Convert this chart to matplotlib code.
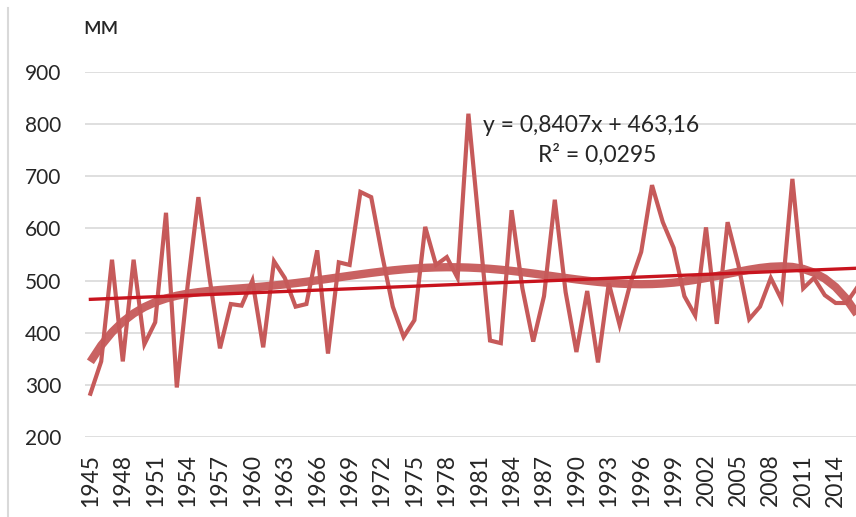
import matplotlib
matplotlib.use("Agg")
import matplotlib.pyplot as plt
from matplotlib.lines import Line2D
import numpy as np

years = list(range(1945, 2017))
precip = [283, 345, 540, 345, 540, 378, 420, 630, 295, 490,
          660, 510, 370, 455, 452, 500, 372, 537, 505, 450,
          455, 558, 360, 535, 530, 670, 660, 550, 450, 392,
          424, 603, 530, 545, 505, 820, 602, 385, 380, 635,
          485, 383, 470, 655, 478, 363, 480, 343, 495, 415,
          495, 555, 683, 612, 563, 470, 433, 602, 417, 612,
          530, 426, 450, 505, 463, 695, 485, 505, 472, 457,
          457, 487]
lin_slope = 0.8407
lin_icpt = 463.16
eq_text = "y = 0,8407x + 463,16"
r2_text = "R² = 0,0295"
yticks = [200, 300, 400, 500, 600, 700, 800, 900]
xtick_years = years[::3]

plt.rcParams['font.family'] = ['Lato', 'DejaVu Sans']

W, H = 856, 517
fig = plt.figure(figsize=(W / 100, H / 100), dpi=100)
step = 10.8
left = 85
right = left + len(years) * step
top, bottom = 72, 437
ax = fig.add_axes([left / W, 1 - bottom / H, (right - left) / W, (bottom - top) / H])

x = np.arange(len(years))
xi = x + 1
series_col = '#C65A5A'
ax.plot(x, precip, color=series_col, lw=3.0, zorder=3, solid_joinstyle='miter')

# linear trend (Excel equation)
ax.plot(x, lin_slope * xi + lin_icpt, color='#C8141E', lw=2.4, zorder=4)

# polynomial trend
xs = (xi - xi.mean()) / xi.std()
coef = np.polyfit(xs, precip, 6)
ax.plot(x, np.polyval(coef, xs), color=series_col, lw=6, alpha=0.95, zorder=3,
        solid_capstyle='butt')

ax.set_xlim(-0.5, len(years) - 0.5)
ax.set_ylim(200, 900)
ax.set_yticks(yticks)
ax.set_yticklabels([str(v) for v in yticks], fontsize=15, color='#262626')
ax.set_xticks([years.index(y) for y in xtick_years])
ax.set_xticklabels([str(y) for y in xtick_years], rotation=90, fontsize=16.5,
                   color='#262626')
ax.tick_params(axis='both', length=0)
ax.tick_params(axis='y', pad=17)
ax.tick_params(axis='x', pad=12)
ax.grid(axis='y', color='#D9D9D9', lw=1.2)
ax.set_axisbelow(True)
for s in ax.spines.values():
    s.set_visible(False)

fig.text(483 / W, 1 - 126 / H, eq_text, fontsize=16.5, color='#262626',
         ha='left', va='center')
fig.text(656 / W, 1 - 155 / H, r2_text, fontsize=16.5, color='#262626',
         ha='right', va='center')
fig.text(83 / W, 1 - 27 / H, "мм", fontsize=18, color='#262626', ha='left', va='center')

fig.add_artist(Line2D([8 / W, 8 / W], [0, 1 - 8 / H], transform=fig.transFigure,
                      color='#D9D9D9', lw=1.5))

fig.savefig("out.png", dpi=100)
